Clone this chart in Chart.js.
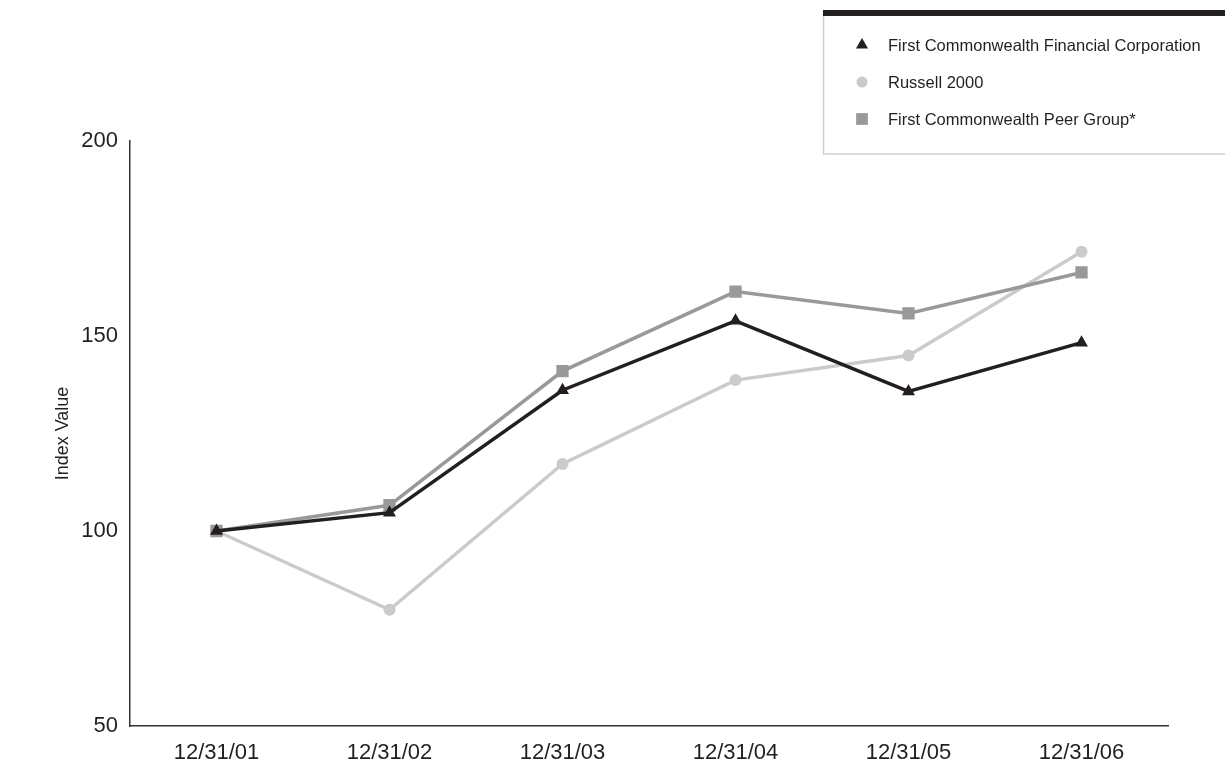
<!DOCTYPE html>
<html>
<head>
<meta charset="utf-8">
<script src="https://cdn.jsdelivr.net/npm/chart.js@4/dist/chart.umd.min.js"></script>
<style>
  html, body { margin: 0; padding: 0; background: #ffffff; }
  #wrap { width: 1225px; height: 765px; position: relative; }
</style>
</head>
<body>
<div id="wrap"><canvas id="chart" width="1225" height="765"></canvas></div>
<script>
// Year-end dates on the horizontal axis
const years = ['12/31/01', '12/31/02', '12/31/03', '12/31/04', '12/31/05', '12/31/06'];

// Cumulative total return index, base 100 at 12/31/01
const fcfcValues    = [100, 104.7, 136.1, 153.9, 135.8, 148.3];
const russellValues = [100, 79.8, 117.2, 138.7, 145.0, 171.6];
const peerValues    = [100, 106.6, 141.0, 161.4, 155.8, 166.3];

// Vertical axis tick values
const yTicks = [50, 100, 150, 200];

const seriesNames = [
  'First Commonwealth Financial Corporation',
  'Russell 2000',
  'First Commonwealth Peer Group*'
];

const FONT = "'Liberation Sans', Arial, sans-serif";
const INK = '#231f20';

// Marker shapes shared by the chart and the boxed legend
function drawMarker(ctx, style, r, x, y, color) {
  ctx.fillStyle = color;
  ctx.beginPath();
  if (style === 'triangle') {
    let a = 0;
    ctx.moveTo(x + Math.sin(a) * r, y - Math.cos(a) * r);
    a += 2 * Math.PI / 3;
    ctx.lineTo(x + Math.sin(a) * r, y - Math.cos(a) * r);
    a += 2 * Math.PI / 3;
    ctx.lineTo(x + Math.sin(a) * r, y - Math.cos(a) * r);
    ctx.closePath();
  } else if (style === 'rect') {
    const s = Math.SQRT1_2 * r;
    ctx.rect(x - s, y - s, 2 * s, 2 * s);
  } else {
    ctx.arc(x, y, r, 0, Math.PI * 2);
  }
  ctx.fill();
}

// Framed legend in the top-right corner with a heavy rule across its top
const boxedLegend = {
  id: 'boxedLegend',
  afterDraw(chart) {
    const ctx = chart.ctx;
    ctx.save();
    ctx.strokeStyle = '#d0d0d0';
    ctx.lineWidth = 1.5;
    ctx.strokeRect(823.5, 14, 420, 140);
    ctx.fillStyle = INK;
    ctx.fillRect(823, 10, 402, 6);

    const order = [0, 1, 2];
    const rowY = [45, 82, 119];
    const legendRadius = { triangle: 7, circle: 5.5, rect: 8.3 };
    ctx.font = "16.5px " + FONT;
    ctx.textBaseline = 'middle';
    ctx.textAlign = 'left';
    order.forEach((i, k) => {
      const ds = chart.data.datasets[i];
      drawMarker(ctx, ds.pointStyle, legendRadius[ds.pointStyle], 862, rowY[k], ds.pointBackgroundColor);
      ctx.fillStyle = INK;
      ctx.fillText(ds.label, 888, rowY[k] + 1);
    });
    ctx.restore();
  }
};

const datasets = [
  {
    label: seriesNames[0],
    data: fcfcValues,
    borderColor: INK,
    backgroundColor: INK,
    pointBackgroundColor: INK,
    pointStyle: 'triangle',
    pointRadius: 7.5,
    pointBorderWidth: 0,
    borderWidth: 3.5,
    order: 1
  },
  {
    label: seriesNames[1],
    data: russellValues,
    borderColor: '#cbcbcb',
    backgroundColor: '#cbcbcb',
    pointBackgroundColor: '#cbcbcb',
    pointStyle: 'circle',
    pointRadius: 6,
    pointBorderWidth: 0,
    borderWidth: 3.5,
    order: 3
  },
  {
    label: seriesNames[2],
    data: peerValues,
    borderColor: '#999999',
    backgroundColor: '#999999',
    pointBackgroundColor: '#999999',
    pointStyle: 'rect',
    pointRadius: 8.7,
    pointBorderWidth: 0,
    borderWidth: 3.5,
    order: 2
  }
];

new Chart(document.getElementById('chart'), {
  type: 'line',
  data: { labels: years, datasets: datasets },
  plugins: [boxedLegend],
  options: {
    responsive: false,
    animation: false,
    devicePixelRatio: 1,
    layout: { padding: { top: 141, right: 57, bottom: 0, left: 0 } },
    elements: { line: { tension: 0 } },
    plugins: {
      legend: { display: false },
      tooltip: { enabled: false }
    },
    scales: {
      x: {
        type: 'category',
        offset: true,
        grid: { display: false, drawTicks: false },
        border: { display: true, color: '#333333', width: 1.5 },
        ticks: {
          color: INK,
          font: { family: FONT, size: 22 },
          padding: 14,
          maxRotation: 0,
          autoSkip: false
        },
        afterFit(scale) { scale.height = 39; }
      },
      y: {
        min: yTicks[0],
        max: yTicks[yTicks.length - 1],
        grid: { display: false, drawTicks: false },
        border: { display: true, color: '#333333', width: 1.5 },
        afterBuildTicks(scale) { scale.ticks = yTicks.map(v => ({ value: v })); },
        ticks: {
          color: INK,
          font: { family: FONT, size: 22 },
          padding: 12
        },
        title: {
          display: true,
          text: 'Index Value',
          color: INK,
          font: { family: FONT, size: 18 },
          padding: { top: 52, bottom: 0 }
        },
        afterFit(scale) { scale.width = 130; }
      }
    }
  }
});
</script>
</body>
</html>
